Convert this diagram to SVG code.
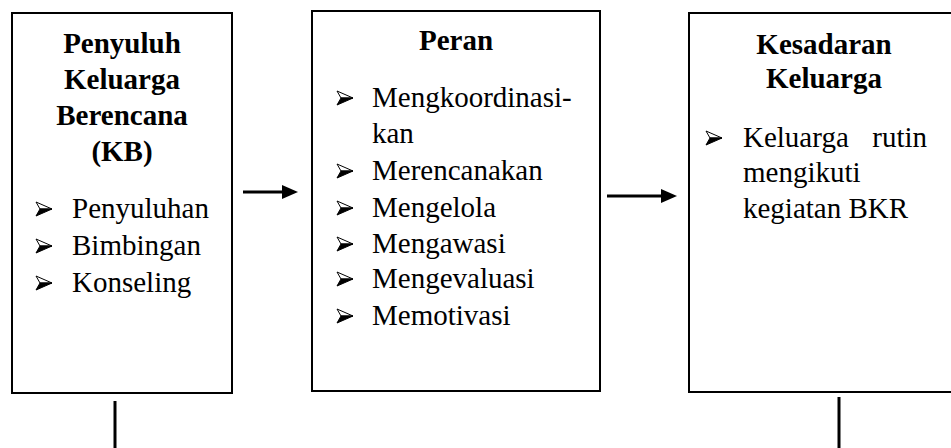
<svg xmlns="http://www.w3.org/2000/svg" width="951" height="448" viewBox="0 0 951 448">
<style>
.box{fill:#fff;stroke:#000;stroke-width:2}
text{font-family:'Liberation Serif','DejaVu Serif',serif;font-size:29px;fill:#000}
.b{font-weight:bold;text-anchor:middle}
.con{stroke:#000;stroke-width:3;fill:none}
</style>
<defs>
<marker id="ah" markerUnits="userSpaceOnUse" markerWidth="16" markerHeight="14" refX="0" refY="7" orient="auto">
<path d="M0,0 L16,7 L0,14 z" fill="#000"/>
</marker>
<g id="bul">
<path d="M0,-14 L16,-7 L4,-7 Z" fill="#fff" stroke="#000" stroke-width="1" stroke-linejoin="miter"/>
<path d="M4,-7 L16,-7 L0,0 Z" fill="#000" stroke="#000" stroke-width="1"/>
</g>
</defs>
<rect width="951" height="448" fill="#fff"/>
<g id="node-penyuluh">
<rect class="box" x="12" y="13" width="220" height="380"/>
<text class="b" x="122" y="53">Penyuluh</text>
<text class="b" x="122" y="89">Keluarga</text>
<text class="b" x="122" y="125">Berencana</text>
<text class="b" x="122" y="161">(KB)</text>
<use href="#bul" x="36" y="216"/>
<text x="72" y="218">Penyuluhan</text>
<use href="#bul" x="36" y="253"/>
<text x="72" y="255">Bimbingan</text>
<use href="#bul" x="36" y="290"/>
<text x="72" y="292">Konseling</text>
</g>
<g id="node-peran">
<rect class="box" x="312" y="11" width="288" height="380"/>
<text class="b" x="456" y="50">Peran</text>
<use href="#bul" x="337" y="105"/>
<text x="372" y="107">Mengkoordinasi-</text>
<text x="372" y="143">kan</text>
<use href="#bul" x="337" y="178"/>
<text x="372" y="180">Merencanakan</text>
<use href="#bul" x="337" y="215"/>
<text x="372" y="217">Mengelola</text>
<use href="#bul" x="337" y="251"/>
<text x="372" y="253">Mengawasi</text>
<use href="#bul" x="337" y="286"/>
<text x="372" y="288">Mengevaluasi</text>
<use href="#bul" x="337" y="323"/>
<text x="372" y="325">Memotivasi</text>
</g>
<g id="node-kesadaran">
<rect class="box" x="689" y="13" width="280" height="379"/>
<text class="b" x="824" y="54">Kesadaran</text>
<text class="b" x="824" y="88">Keluarga</text>
<use href="#bul" x="706" y="145"/>
<text x="743" y="147">Keluarga</text>
<text x="927" y="147" text-anchor="end">rutin</text>
<text x="743" y="182">mengikuti</text>
<text x="743" y="218">kegiatan BKR</text>
</g>
<g id="connectors">
<line class="con" x1="243" y1="192" x2="282" y2="192" marker-end="url(#ah)"/>
<line class="con" x1="607" y1="196" x2="661" y2="196" marker-end="url(#ah)"/>
<line class="con" x1="115" y1="401" x2="115" y2="448"/>
<line class="con" x1="839" y1="397" x2="839" y2="448"/>
</g>
</svg>
